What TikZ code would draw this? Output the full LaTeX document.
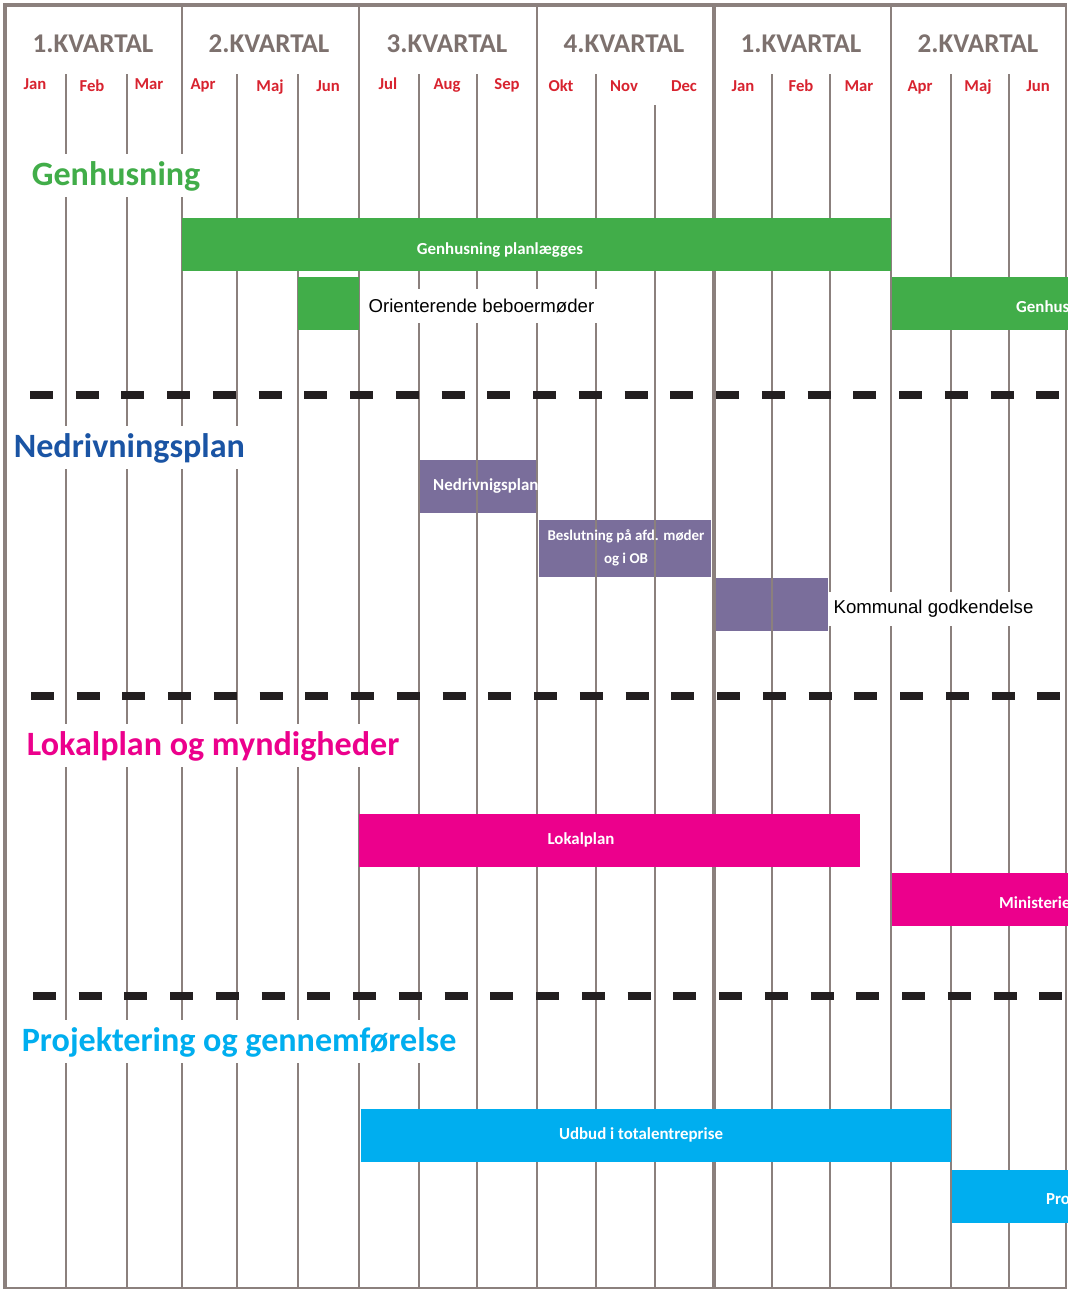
\documentclass[tikz,border=0pt]{standalone}
\usepackage{fontspec}
\setmainfont{Carlito}
\newfontfamily\arialfont{Liberation Sans}

\definecolor{gridgray}{HTML}{8B807D}
\definecolor{headgray}{HTML}{7D716E}
\definecolor{monthred}{HTML}{D8232F}
\definecolor{genhusgreen}{HTML}{41AD49}
\definecolor{nedrivblue}{HTML}{1A54A4}
\definecolor{nedrivpurple}{HTML}{7A6E9B}
\definecolor{lokalpink}{HTML}{EC008C}
\definecolor{projcyan}{HTML}{00AEEF}
\definecolor{dashblack}{HTML}{231F20}

\tikzset{
  gridline/.style={draw=gridgray, line width=1.1pt},
  frameline/.style={draw=gridgray, line width=2.4pt},
  kvartal/.style={font=\bfseries\fontsize{15.4}{16}\selectfont, text=headgray, anchor=base},
  month/.style={font=\bfseries\fontsize{9.5}{10}\selectfont, text=monthred, anchor=base},
  section/.style={font=\bfseries\fontsize{19.4}{20}\selectfont, fill=white, inner xsep=2pt, inner ysep=3.8pt, anchor=base west},
  bartext/.style={text=white, font=\bfseries\fontsize{9.6}{11}\selectfont},
  sidelabel/.style={font=\arialfont\fontsize{10.6}{11}\selectfont, fill=white, minimum height=0.68cm, inner xsep=3pt, anchor=west},
  sectionsep/.style={draw=dashblack, line width=4.5pt, dash pattern=on 0.46cm off 0.455cm}
}

\begin{document}
\begin{tikzpicture}[x=0.02cm, y=-0.02cm]
			%%%%% START %%%%%
			\clip (0,0) rectangle (1068,1289);
			\fill[white] (0,0) rectangle (1068,1289);
			
			% purple bars lie under the grid
			\fill[nedrivpurple] (419,460) rectangle (536,513);
			\fill[nedrivpurple] (539,520) rectangle (711,577);
			\fill[nedrivpurple] (715,578) rectangle (828,631);
			
			% quarter lines
			\draw[gridline] (182,5) -- (182,1288);
			\draw[gridline] (359,5) -- (359,1288);
			\draw[gridline] (537,5) -- (537,1288);
			\draw[gridline, line width=2.8pt] (714,5) -- (714,1288);
			\draw[gridline] (891,5) -- (891,1288);
			
			% month lines
			\draw[gridline] (66,74) -- (66,1288);
			\draw[gridline] (127,74) -- (127,1288);
			\draw[gridline] (237,74) -- (237,1288);
			\draw[gridline] (298,74) -- (298,1288);
			\draw[gridline] (419,74) -- (419,1288);
			\draw[gridline] (477,74) -- (477,1288);
			\draw[gridline] (596,74) -- (596,1288);
			\draw[gridline] (655,105) -- (655,1288);
			\draw[gridline] (772,74) -- (772,1288);
			\draw[gridline] (830,74) -- (830,1288);
			\draw[gridline] (951,74) -- (951,1288);
			\draw[gridline] (1009,74) -- (1009,1288);
			
			% frame
			\draw[frameline] (3,5) -- (1067,5);
			\draw[frameline] (5,5) -- (5,1289);
			\draw[gridline] (5,1288) -- (1067,1288);
			\draw[gridline] (1066,5) -- (1066,1289);
			
			% texts on the purple bars
			\node[bartext, anchor=west] (nedrivbar) at (427,486) {Nedrivnigsplan};
			\node[bartext, align=center, font=\bfseries\fontsize{8.5}{13}\selectfont] (beslutbar) at (626,548) {Beslutning på afd. møder\\og i OB};
			
			% section titles
			\node[section, text=genhusgreen] (genhusning) at (28,185) {Genhusning};
			\node[section, text=nedrivblue] (nedrivning) at (10,457) {Nedrivningsplan};
			\node[section, text=lokalpink] (lokalplan) at (23,755) {Lokalplan og myndigheder};
			\node[section, text=projcyan] (projektering) at (18,1051) {Projektering og gennemførelse};
			
			\node[sidelabel] (kommunal) at (828,609) {Kommunal godkendelse};
			
			% Genhusning
			\fill[genhusgreen] (182,218) rectangle (891,271);
			\node[bartext] (genplan) at (500,250) {Genhusning planlægges};
			\fill[genhusgreen] (298,277) rectangle (359,330);
			\node[sidelabel] (orienterende) at (363,306) {Orienterende beboermøder};
			\fill[genhusgreen] (892,277) rectangle (1068,330);
			\node[bartext, anchor=west] (genhusright) at (1010,307) {Genhus};
			
			% Lokalplan
			\fill[lokalpink] (359,814) rectangle (860,867);
			\node[bartext] (lokalbar) at (581,840) {Lokalplan};
			\fill[lokalpink] (892,873) rectangle (1068,926);
			\node[bartext, anchor=west] (ministerie) at (993,903) {Ministerie};
			
			% Projektering
			\fill[projcyan] (361,1109) rectangle (951,1162);
			\node[bartext] (udbud) at (641,1135) {Udbud i totalentreprise};
			\fill[projcyan] (952,1170) rectangle (1068,1223);
			\node[bartext, anchor=west] (proright) at (1040,1199) {Pro};
			
			% separators
			\draw[sectionsep] (30,395) -- (1068,395);
			\draw[sectionsep] (31,696) -- (1068,696);
			\draw[sectionsep] (33,996) -- (1068,996);
			
			% header
			\node[kvartal] (kv1) at (93,52.5) {1.KVARTAL};
			\node[kvartal] (kv2) at (269,52.5) {2.KVARTAL};
			\node[kvartal] (kv3) at (447,52.5) {3.KVARTAL};
			\node[kvartal] (kv4) at (624,52.5) {4.KVARTAL};
			\node[kvartal] (kv5) at (801,52.5) {1.KVARTAL};
			\node[kvartal] (kv6) at (978,52.5) {2.KVARTAL};
			
			\node[month] (jan1) at (35,89) {Jan};
			\node[month] (feb1) at (92,91.5) {Feb};
			\node[month] (mar1) at (149,89) {Mar};
			\node[month] (apr1) at (203,89) {Apr};
			\node[month] (maj1) at (270,91.5) {Maj};
			\node[month] (jun1) at (328,91.5) {Jun};
			\node[month] (jul1) at (388,89) {Jul};
			\node[month] (aug1) at (447,89) {Aug};
			\node[month] (sep1) at (507,89) {Sep};
			\node[month] (okt1) at (561,91.5) {Okt};
			\node[month] (nov1) at (624,91.5) {Nov};
			\node[month] (dec1) at (684,91.5) {Dec};
			\node[month] (jan2) at (743,91.5) {Jan};
			\node[month] (feb2) at (801,91.5) {Feb};
			\node[month] (mar2) at (859,91.5) {Mar};
			\node[month] (apr2) at (920,91.5) {Apr};
			\node[month] (maj2) at (978,91.5) {Maj};
			\node[month] (jun2) at (1038,91.5) {Jun};
			
			%%%%% END %%%%%
\end{tikzpicture}
\end{document}
